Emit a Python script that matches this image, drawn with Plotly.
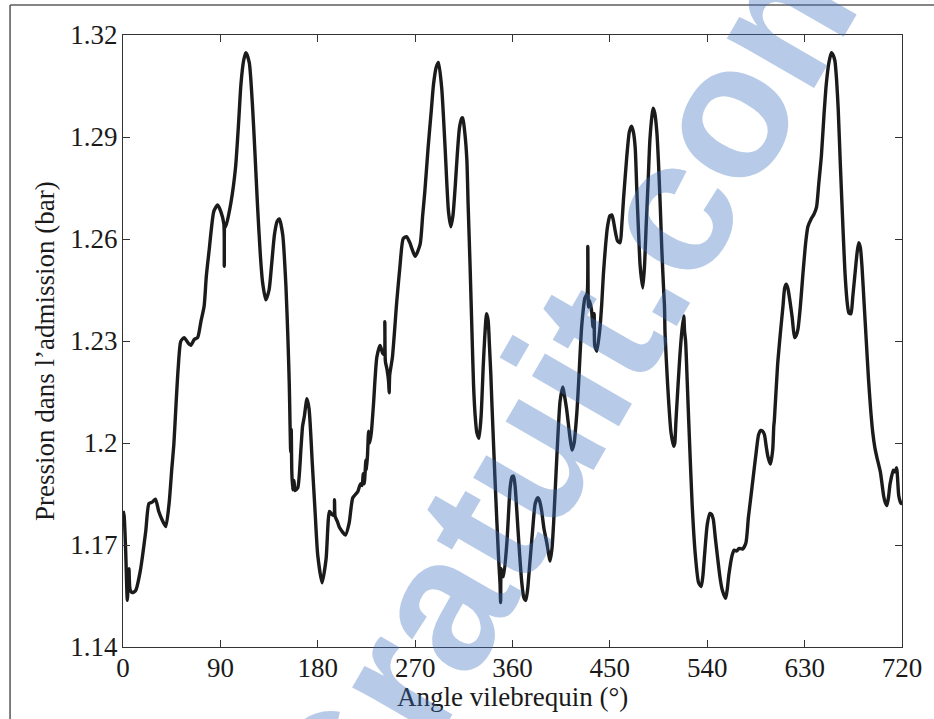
import plotly.graph_objects as go

# Crank angle (deg) and intake manifold pressure (bar)
angle = [
    0, 1, 2.5, 4, 5.5, 6.5, 8.6, 11.7, 16, 21, 24, 27, 30, 33, 36, 39.5, 42.6, 45, 47, 49,
    51, 53.4, 56.5, 60, 62.7, 66, 69, 72, 75, 77, 79.6, 84, 87.4, 90.5, 93.2, 93.6, 94.0, 95,
    99.7, 104, 107, 109, 111.5, 113.6, 116.7, 119.8, 122, 124.4, 127, 129, 132, 135, 137.5,
    140, 142.5, 144.5, 147.6, 150.6, 152.5, 153.7, 155, 155.5, 156, 156.8, 158, 159, 161.5,
    164.5, 166, 167.6, 170, 172, 175, 177.5, 180, 184, 187.7, 190.8, 193, 195, 195.5, 196,
    198, 200, 203, 205.6, 209, 212.4, 217, 219.5, 221, 222, 223, 224.5, 225, 226, 227, 228,
    229.5, 231.5, 234.6, 237.6, 240, 241.5, 242, 242.5, 244, 245.5, 246, 246.5, 249, 253,
    256, 259, 262, 265, 267, 270, 274.6, 277, 279, 282, 285, 287, 289.5, 291.6, 294.6, 297.7,
    300.8, 303, 305, 307, 309, 311, 313, 314, 316, 317.8, 319, 320.8, 322.5, 324, 325.5, 327,
    329, 331, 333, 334.5, 336, 337.5, 338.7, 340, 341, 344, 347, 348.5, 349, 349.5, 350.5,
    351.7, 354.8, 357.8, 359.5, 361, 362.5, 364, 366, 368.6, 370.5, 372.3, 374, 376, 378.5,
    381, 383.4, 385, 387, 389, 391.7, 394.8, 396.5, 398, 401, 404, 406.5, 408, 410, 413, 415,
    417, 418, 419.5, 421, 424, 427, 429, 429.6, 430.2, 431, 433, 434.5, 435.5, 436, 438,
    440.7, 442.5, 444, 446, 447.8, 450, 451.8, 453.5, 454.9, 457, 459.5, 461, 462.6, 465.7,
    468, 470, 471.7, 473.4, 474.8, 476.5, 478, 480.4, 482, 483.5, 485.5, 487, 489, 490,
    491.5, 493.4, 495, 496.6, 498, 499.7, 500.5, 501, 503.4, 505, 506.5, 509, 510, 511,
    511.5, 514.6, 516.7, 518.3, 519, 520, 521.5, 523, 526, 529, 532, 534.4, 536, 537.5, 540,
    542.5, 544, 545.6, 547.5, 549.3, 552, 554, 557, 558.5, 560, 563, 565, 567, 569.5, 572.6,
    575.7, 578, 580, 582.5, 585, 587.5, 589.6, 591, 592.8, 594.5, 596, 598.4, 600.5, 601.5,
    602, 605, 607.5, 610, 611.5, 613, 614.5, 616, 618.5, 620.7, 622, 623.8, 626, 628.4, 631,
    633, 636, 638.5, 641, 643, 645.5, 648, 650, 652.5, 654.8, 656.5, 658, 659.5, 661, 663,
    665.7, 667.5, 669.7, 671, 672.8, 674.5, 676.5, 678.5, 680, 681.5, 683, 685, 687, 689,
    691, 693, 695, 697, 700, 703, 704.5, 706, 707.5, 709, 712, 713.5, 715, 717, 719, 720,
]
pressure = [
    1.180, 1.1787, 1.168, 1.1537, 1.163, 1.157, 1.156, 1.1566, 1.1624, 1.174, 1.1822, 1.1826,
    1.1835, 1.1799, 1.1775, 1.1754, 1.1822, 1.192, 1.1996, 1.2113,
    1.222, 1.2299, 1.231, 1.2295, 1.2287, 1.2305, 1.231, 1.2357, 1.2403, 1.249, 1.2566,
    1.2682, 1.270, 1.268, 1.2645, 1.252, 1.2645, 1.2636,
    1.2706, 1.281, 1.295, 1.3055, 1.3125, 1.3148, 1.3119, 1.2985, 1.285, 1.2694, 1.255,
    1.2473, 1.2421, 1.245, 1.253,
    1.2613, 1.2652, 1.2659, 1.2613, 1.2461, 1.230, 1.2171, 1.1973, 1.204, 1.192, 1.1862,
    1.189, 1.186, 1.1868,
    1.1985, 1.205, 1.2078, 1.213, 1.210, 1.1938, 1.180, 1.167, 1.1589, 1.1659, 1.1799,
    1.1790, 1.1787, 1.1833, 1.1785,
    1.1770, 1.1752, 1.1738, 1.1729, 1.1764, 1.1839, 1.1857, 1.188, 1.1875, 1.191, 1.188,
    1.195, 1.192, 1.1965, 1.2035, 1.200,
    1.203, 1.2113, 1.2252, 1.2287, 1.2264, 1.226, 1.2357, 1.224, 1.2217, 1.218, 1.2148,
    1.220, 1.2252, 1.2415,
    1.252, 1.2601, 1.2607, 1.2590, 1.2572, 1.2549, 1.2584, 1.267, 1.2741, 1.2869, 1.298,
    1.3055, 1.3105, 1.3119, 1.3043, 1.2869,
    1.2682, 1.2636, 1.267, 1.2752, 1.285, 1.2927, 1.2955, 1.2956, 1.291, 1.2834, 1.270,
    1.252, 1.233, 1.2171, 1.208, 1.2031,
    1.2014, 1.208, 1.2229, 1.232, 1.238, 1.236, 1.2287, 1.220, 1.2113, 1.188, 1.167,
    1.1585, 1.1531, 1.163, 1.1615,
    1.1607, 1.1706, 1.1868, 1.1900, 1.1903, 1.1870, 1.1799, 1.170, 1.1589, 1.1545, 1.1537,
    1.157, 1.1647, 1.174,
    1.1822, 1.1839, 1.1830, 1.1799, 1.175, 1.1706, 1.1653, 1.169, 1.1764, 1.1961, 1.2124,
    1.2165, 1.214, 1.210, 1.202, 1.1979,
    1.2000, 1.2031, 1.209, 1.2171, 1.2345, 1.2427, 1.244, 1.2578, 1.240, 1.242, 1.2392,
    1.234, 1.238, 1.2287, 1.2270,
    1.2334, 1.241, 1.2496, 1.258, 1.2636, 1.2668, 1.2671, 1.265, 1.2624, 1.2595, 1.2589,
    1.264, 1.2717, 1.2845,
    1.2915, 1.2932, 1.2915, 1.2869, 1.2752, 1.262, 1.252, 1.2456, 1.252, 1.2636, 1.278,
    1.2892, 1.2965, 1.2985,
    1.297, 1.2915, 1.282, 1.2694, 1.257, 1.245, 1.240, 1.2322, 1.2171, 1.209, 1.2031, 1.199,
    1.200, 1.206,
    1.2089, 1.2252, 1.2334, 1.2374, 1.233, 1.2299, 1.218, 1.2054, 1.1822, 1.167, 1.1589,
    1.1578, 1.161, 1.167, 1.176,
    1.1793, 1.1790, 1.1775, 1.172, 1.167, 1.160, 1.1566, 1.1543, 1.157, 1.1613, 1.167,
    1.1685, 1.1682, 1.1690, 1.1688,
    1.1706, 1.178, 1.1833, 1.190, 1.1967, 1.2025, 1.2037, 1.2035, 1.2025, 1.199, 1.1961,
    1.1938, 1.198, 1.205,
    1.2066, 1.2229, 1.232, 1.2403, 1.2455, 1.2467, 1.2455, 1.2427, 1.237, 1.231, 1.2315,
    1.2334, 1.240, 1.2496, 1.259,
    1.2636, 1.2659, 1.2672, 1.2694, 1.276, 1.2845, 1.297, 1.3055, 1.312, 1.3148, 1.314,
    1.3124, 1.307, 1.2985, 1.282,
    1.2613, 1.249, 1.2403, 1.2382, 1.238, 1.243, 1.2496, 1.256, 1.2589, 1.2575, 1.252,
    1.241, 1.2299, 1.219,
    1.21, 1.203, 1.1985, 1.1955, 1.1915, 1.1845, 1.1825, 1.1816, 1.184, 1.188, 1.192,
    1.1915, 1.1927, 1.1845, 1.1822, 1.183,
]

x_ticks = [0, 90, 180, 270, 360, 450, 540, 630, 720]
y_ticks = [1.14, 1.17, 1.20, 1.23, 1.26, 1.29, 1.32]
y_tick_text = ["1.14", "1.17", "1.2", "1.23", "1.26", "1.29", "1.32"]

x_title = "Angle vilebrequin (°)"
y_title = "Pression dans l’admission (bar)"

serif = "Liberation Serif"
ink = "#1a1a1a"

fig = go.Figure()
fig.add_trace(go.Scatter(
    x=angle, y=pressure, mode="lines",
    line=dict(color="#1b1b1b", width=3.4, shape="spline", smoothing=0.6),
    hoverinfo="x+y", showlegend=False,
))

axis_common = dict(
    showgrid=False, zeroline=False, showline=True, linecolor="#333333", linewidth=1.3,
    mirror="ticks", ticks="inside", ticklen=7, tickwidth=1, tickcolor="#333333",
    tickfont=dict(family=serif, size=27, color=ink),
)

fig.update_xaxes(range=[0, 720], tickvals=x_ticks, ticktext=[str(v) for v in x_ticks],
                 ticklabelstandoff=-4, **axis_common)
fig.update_yaxes(range=[1.14, 1.32], tickvals=y_ticks, ticktext=y_tick_text,
                 ticklabelstandoff=-1, **axis_common)

# Axis titles placed as free text below / left of the axes
fig.add_annotation(text=x_title, xref="paper", yref="paper", x=0.5, y=-0.0817,
                   xanchor="center", yanchor="middle", showarrow=False,
                   font=dict(family=serif, size=27, color=ink))
fig.add_annotation(text=y_title, xref="paper", yref="paper", x=-0.1001, y=0.4837,
                   xanchor="center", yanchor="middle", showarrow=False, textangle=-90,
                   font=dict(family=serif, size=27, color=ink))

# Outer figure frame (top and left edges)
fig.add_shape(type="line", xref="paper", yref="paper", x0=-0.145, x1=1.05, y0=1.049, y1=1.049,
              line=dict(color="#858585", width=2))
fig.add_shape(type="line", xref="paper", yref="paper", x0=-0.145, x1=-0.145, y0=1.049, y1=-0.13,
              line=dict(color="#555555", width=1.5))

# Site watermark across the figure
fig.add_annotation(
    text="Cours-Gratuit.com", xref="paper", yref="paper", x=0.375, y=0.0,
    xanchor="center", yanchor="middle", showarrow=False, textangle=-60,
    font=dict(family="Liberation Sans", size=190, color="rgba(60,110,190,0.37)",
              weight="bold"),
)

fig.update_layout(
    width=934, height=719,
    margin=dict(l=123, r=32, t=35, b=72),
    paper_bgcolor="white", plot_bgcolor="rgba(0,0,0,0)",
)

fig.write_html("out.html")
